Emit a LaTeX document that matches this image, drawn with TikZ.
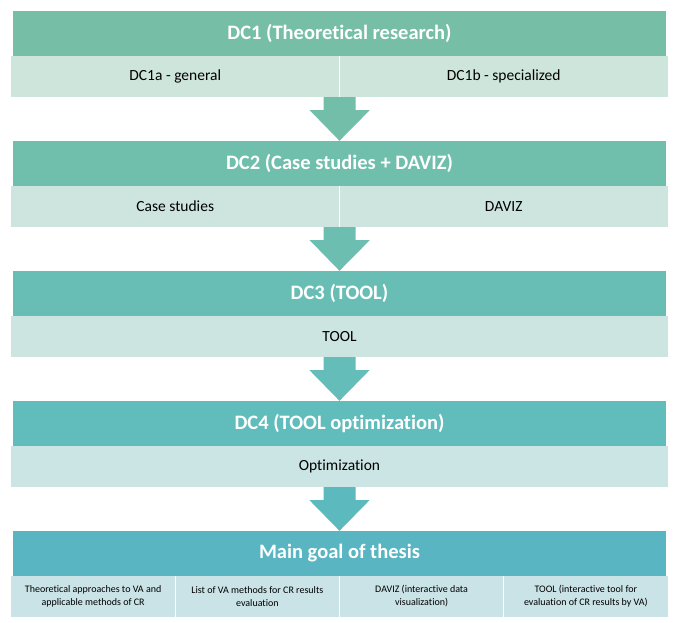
\documentclass[tikz,border=0pt]{standalone}
\usepackage{fontspec}
\setmainfont{Carlito}[Ligatures={NoCommon}]
\usetikzlibrary{calc}
\definecolor{hA}{RGB}{118,190,166}
\definecolor{hB}{RGB}{112,190,172}
\definecolor{hC}{RGB}{104,190,181}
\definecolor{hD}{RGB}{96,189,188}
\definecolor{hE}{RGB}{88,181,193}
\definecolor{sA}{RGB}{206,229,220}
\definecolor{sB}{RGB}{205,229,222}
\definecolor{sC}{RGB}{204,229,225}
\definecolor{sD}{RGB}{203,228,228}
\definecolor{sE}{RGB}{201,227,230}
\newcommand{\blockarrow}[3]{%
  \fill[#3] ($(#1)+(-16,0)$) -- ($(#1)+(16,0)$) -- ($(#1)+(16,13)$) -- ($(#1)+(30,13)$)
    -- (#2) -- ($(#1)+(-30,13)$) -- ($(#1)+(-16,13)$) -- cycle;}
\begin{document}
\begin{tikzpicture}[x=1pt,y=-1pt,
  hdr/.style={minimum width=653pt, minimum height=45pt, inner sep=0pt, text=white,
    font=\bfseries\fontsize{20.5}{22}\selectfont},
  cell/.style={minimum height=41pt, inner sep=0pt, text=black,
    font=\fontsize{15.5}{17}\selectfont},
  halfcell/.style={cell, minimum width=328.5pt},
  fullcell/.style={cell, minimum width=657pt},
  qcell/.style={cell, minimum width=164.25pt, align=center,
    font=\fontsize{10}{13}\selectfont},
  divider/.style={white, line width=1pt}]
\useasboundingbox (0,0) rectangle (681,623);
\fill[white] (0,0) rectangle (681,623);
% DC1
\node[hdr, fill=hA] (h1) at (339.5,33.5) {DC1 (Theoretical research)};
\node[halfcell, fill=sA] (s1a) at (175.25,76.5) {DC1a - general};
\node[halfcell, fill=sA] (s1b) at (503.75,76.5) {DC1b - specialized};
\draw[divider] (s1a.north east) -- (s1a.south east);
% DC2
\node[hdr, fill=hB] (h2) at (339.5,163.5) {DC2 (Case studies + DAVIZ)};
\node[halfcell, fill=sB] (s2a) at (175.25,206.5) {Case studies};
\node[halfcell, fill=sB] (s2b) at (503.75,206.5) {DAVIZ};
\draw[divider] (s2a.north east) -- (s2a.south east);
% DC3
\node[hdr, fill=hC] (h3) at (339.5,293.5) {DC3 (TOOL)};
\node[fullcell, fill=sC] (s3) at (339.5,336.5) {TOOL};
% DC4
\node[hdr, fill=hD] (h4) at (339.5,423.5) {DC4 (TOOL optimization)};
\node[fullcell, fill=sD] (s4) at (339.5,466.5) {Optimization};
% Main goal
\node[hdr, fill=hE] (h5) at (339.5,553.5) {Main goal of thesis};
\node[qcell, fill=sE] (s5a) at (93.125,596.5) {Theoretical approaches to VA and\\applicable methods of CR};
\node[qcell, fill=sE] (s5b) at (257.375,596.5) {List of VA methods for CR results\\evaluation};
\node[qcell, fill=sE] (s5c) at (421.625,596.5) {DAVIZ (interactive data\\visualization)};
\node[qcell, fill=sE] (s5d) at (585.875,596.5) {TOOL (interactive tool for\\evaluation of CR results by VA)};
\draw[divider] (s5a.north east) -- (s5a.south east);
\draw[divider] (s5b.north east) -- (s5b.south east);
\draw[divider] (s5c.north east) -- (s5c.south east);
% arrows
\blockarrow{s1a.south east}{h2.north}{hA!50!hB}
\blockarrow{s2a.south east}{h3.north}{hB!50!hC}
\blockarrow{s3.south}{h4.north}{hC!50!hD}
\blockarrow{s4.south}{h5.north}{hD!50!hE}
\end{tikzpicture}
\end{document}
